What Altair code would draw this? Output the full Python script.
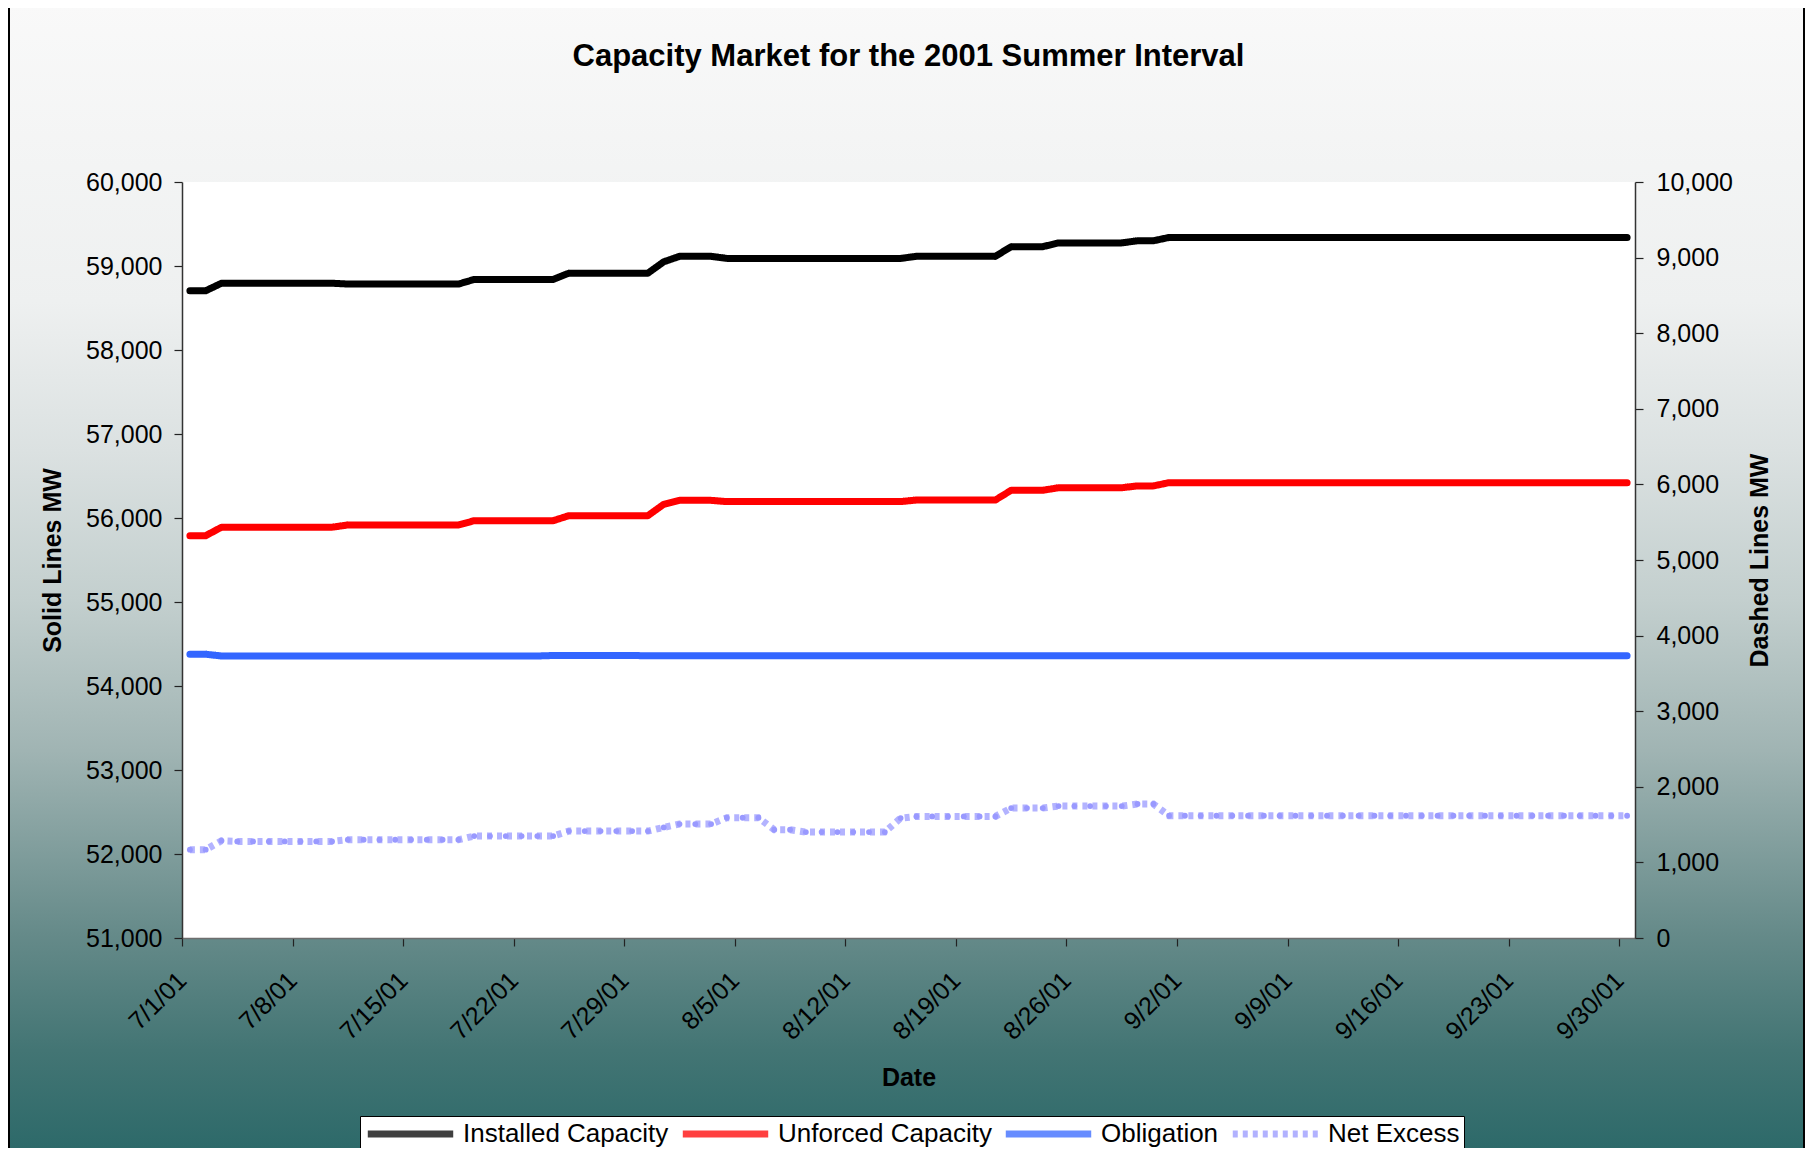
import altair as alt
import pandas as pd

# ---------------- data ----------------
dates = [d.strftime("%Y-%m-%dT12:00:00") for d in pd.date_range("2001-07-01", "2001-09-30", freq="D")]

installed = [
    58705, 58705, 58795, 58795, 58795, 58795, 58795, 58795, 58795, 58795,
    58785, 58785, 58785, 58785, 58785, 58785, 58785, 58785, 58840, 58840,
    58840, 58840, 58840, 58840, 58915, 58915, 58915, 58915, 58915, 58915,
    59050, 59115, 59115, 59115, 59090, 59090, 59090, 59090, 59090, 59090,
    59090, 59090, 59090, 59090, 59090, 59090, 59115, 59115, 59115, 59115,
    59115, 59115, 59230, 59230, 59230, 59275, 59275, 59275, 59275, 59275,
    59300, 59300, 59340, 59340, 59340, 59340, 59340, 59340, 59340, 59340,
    59340, 59340, 59340, 59340, 59340, 59340, 59340, 59340, 59340, 59340,
    59340, 59340, 59340, 59340, 59340, 59340, 59340, 59340, 59340, 59340,
    59340, 59340,
]
unforced = [
    55790, 55790, 55890, 55890, 55890, 55890, 55890, 55890, 55890, 55890,
    55917, 55917, 55917, 55917, 55917, 55917, 55917, 55917, 55968, 55968,
    55968, 55968, 55968, 55968, 56028, 56028, 56028, 56028, 56028, 56028,
    56163, 56210, 56210, 56210, 56195, 56195, 56195, 56195, 56195, 56195,
    56195, 56195, 56195, 56195, 56195, 56195, 56214, 56214, 56214, 56214,
    56214, 56214, 56330, 56330, 56330, 56360, 56360, 56360, 56360, 56360,
    56382, 56382, 56421, 56421, 56421, 56421, 56421, 56421, 56421, 56421,
    56421, 56421, 56421, 56421, 56421, 56421, 56421, 56421, 56421, 56421,
    56421, 56421, 56421, 56421, 56421, 56421, 56421, 56421, 56421, 56421,
    56421, 56421,
]
obligation = [
    54378, 54378, 54357, 54357, 54357, 54357, 54357, 54357, 54357, 54357,
    54357, 54357, 54357, 54357, 54357, 54357, 54357, 54357, 54357, 54357,
    54357, 54357, 54357, 54363, 54363, 54363, 54363, 54363, 54363, 54360,
    54360, 54360, 54360, 54360, 54360, 54360, 54360, 54360, 54360, 54360,
    54360, 54360, 54360, 54360, 54360, 54360, 54360, 54360, 54360, 54360,
    54360, 54360, 54360, 54360, 54360, 54360, 54360, 54360, 54360, 54360,
    54360, 54360, 54360, 54360, 54360, 54360, 54360, 54360, 54360, 54360,
    54360, 54360, 54360, 54360, 54360, 54360, 54360, 54360, 54360, 54360,
    54360, 54360, 54360, 54360, 54360, 54360, 54360, 54360, 54360, 54360,
    54360, 54360,
]
net_excess = [
    1168, 1168, 1287, 1278, 1278, 1278, 1278, 1278, 1278, 1278,
    1300, 1300, 1300, 1300, 1300, 1300, 1300, 1300, 1348, 1348,
    1348, 1348, 1348, 1348, 1414, 1414, 1414, 1414, 1414, 1414,
    1463, 1507, 1507, 1507, 1591, 1591, 1591, 1432, 1432, 1401,
    1401, 1401, 1401, 1401, 1401, 1586, 1608, 1608, 1608, 1608,
    1608, 1608, 1719, 1719, 1719, 1745, 1745, 1745, 1745, 1745,
    1772, 1772, 1617, 1617, 1617, 1617, 1617, 1617, 1617, 1617,
    1617, 1617, 1617, 1617, 1617, 1617, 1617, 1617, 1617, 1617,
    1617, 1617, 1617, 1617, 1617, 1617, 1617, 1617, 1617, 1617,
    1617, 1617,
]

series_names = ["Installed Capacity", "Unforced Capacity", "Obligation", "Net Excess"]
series_colors = ["#000000", "#ff0000", "#3366ff", "#9999ff"]
series_widths = [7, 7, 4, 1.2]
series_dashes = [[1, 0], [1, 0], [1, 0], [5, 5]]

x_tick_dates = [(7, 1), (7, 8), (7, 15), (7, 22), (7, 29), (8, 5), (8, 12), (8, 19),
                (8, 26), (9, 2), (9, 9), (9, 16), (9, 23), (9, 30)]
left_ticks = [51000, 52000, 53000, 54000, 55000, 56000, 57000, 58000, 59000, 60000]
right_ticks = [0, 1000, 2000, 3000, 4000, 5000, 6000, 7000, 8000, 9000, 10000]

# ---------------- tables ----------------
solid_df = pd.concat([
    pd.DataFrame({"date": dates, "value": installed, "series": series_names[0]}),
    pd.DataFrame({"date": dates, "value": unforced, "series": series_names[1]}),
    pd.DataFrame({"date": dates, "value": obligation, "series": series_names[2]}),
])
net_df = pd.DataFrame({"date": dates, "value": net_excess, "series": series_names[3]})
one = pd.DataFrame({"k": [0]})

# ---------------- layout ----------------
W, H = 1453, 756
PAD_L, PAD_T = 174, 174
CANVAS_W, CANVAS_H = 1797, 1140
PAD_R = CANVAS_W - PAD_L - W
PAD_B = CANVAS_H - PAD_T - H
FONT = "Liberation Sans"
BG_TOP = -PAD_T - 6          # top of the background panel (plot coords)
TITLE_OFFSET = -96

x_enc = alt.X(
    "date:T",
    scale=alt.Scale(domain=[alt.DateTime(year=2001, month=7, date=1),
                            alt.DateTime(year=2001, month=10, date=1)]),
    axis=alt.Axis(
        values=[alt.DateTime(year=2001, month=m, date=d) for m, d in x_tick_dates],
        format="%-m/%-d/%y", labelAngle=315, labelAlign="right", labelBaseline="middle",
        labelPadding=30, tickSize=8, grid=False, title="Date", zindex=1,
        titleX=W / 2, titleY=139, titleBaseline="middle", titleAlign="center",
        domainColor="#6e6e6e",
    ),
)

color_enc = alt.Color("series:N", scale=alt.Scale(domain=series_names, range=series_colors),
                      legend=alt.Legend(title=None))
width_enc = alt.StrokeWidth("series:N", scale=alt.Scale(domain=series_names, range=series_widths),
                            legend=alt.Legend(title=None))
dash_enc = alt.StrokeDash("series:N", scale=alt.Scale(domain=series_names, range=series_dashes),
                          legend=alt.Legend(title=None))

gradient = alt.Gradient(
    gradient="linear", x1=0, x2=0, y1=0, y2=1,
    stops=[
        alt.GradientStop(color="#f9f9f9", offset=0),
        alt.GradientStop(color="#eef0f0", offset=0.26),
        alt.GradientStop(color="#dbe1e1", offset=0.39),
        alt.GradientStop(color="#c3cfce", offset=0.52),
        alt.GradientStop(color="#a0b4b3", offset=0.65),
        alt.GradientStop(color="#658a89", offset=0.81),
        alt.GradientStop(color="#437574", offset=0.91),
        alt.GradientStop(color="#2c6969", offset=1),
    ],
)

bg = alt.Chart(one).mark_rect(fill=gradient, stroke="#000000", strokeWidth=2).encode(
    x=alt.value(-PAD_L + 1), x2=alt.value(W + PAD_R - 1),
    y=alt.value(BG_TOP), y2=alt.value(H + PAD_B + 6),
)
plot_bg = alt.Chart(one).mark_rect(fill="white").encode(
    x=alt.value(0), x2=alt.value(W), y=alt.value(0), y2=alt.value(H),
)

solid = alt.Chart(solid_df).mark_line(strokeCap="round", strokeJoin="round").encode(
    x=x_enc,
    y=alt.Y("value:Q",
            scale=alt.Scale(domain=[51000, 60000], nice=False, zero=False),
            axis=alt.Axis(values=left_ticks, format=",.0f", orient="left", grid=False,
                          tickSize=8, labelPadding=12, title="Solid Lines MW", zindex=1,
                          titleAngle=270, titleX=-130, titleY=H / 2,
                          titleBaseline="middle", titleAlign="center")),
    color=color_enc, strokeWidth=width_enc, strokeDash=dash_enc,
    order=alt.Order("date:T"),
)

net = alt.Chart(net_df).mark_line(
    opacity=0.75,
    point=alt.OverlayMarkDef(filled=True, size=34, opacity=1),
).encode(
    x=x_enc,
    y=alt.Y("value:Q",
            scale=alt.Scale(domain=[0, 10000], nice=False, zero=False),
            axis=alt.Axis(values=right_ticks, format=",.0f", orient="right", grid=False,
                          tickSize=8, labelPadding=13, title="Dashed Lines MW", zindex=1,
                          titleAngle=270, titleX=124, titleY=H / 2,
                          titleBaseline="middle", titleAlign="center")),
    color=color_enc, strokeWidth=width_enc, strokeDash=dash_enc,
)

chart = alt.layer(bg, plot_bg, solid, net).resolve_scale(y="independent").properties(
    width=W, height=H,
    autosize=alt.AutoSizeParams(type="none"),
    padding={"left": PAD_L, "top": PAD_T, "right": PAD_R, "bottom": PAD_B},
    title=alt.TitleParams(
        text="Capacity Market for the 2001 Summer Interval",
        font=FONT, fontSize=31, fontWeight="bold", color="#000000",
        anchor="middle", frame="group", baseline="alphabetic",
        offset=TITLE_OFFSET, zindex=1,
    ),
).configure_view(stroke=None, fill=None).configure_axis(
    labelFont=FONT, labelFontSize=25, labelColor="#000000",
    titleFont=FONT, titleFontSize=25, titleFontWeight="bold", titleColor="#000000",
    domainColor="#333333", domainWidth=1.5, tickColor="#222222", tickWidth=1.2,
).configure_legend(
    zindex=1,
    orient="none", legendX=178, legendY=934, direction="horizontal", columns=4,
    symbolType="stroke", symbolSize=7300, clipHeight=28,
    labelFont=FONT, labelFontSize=26, labelColor="#000000", labelLimit=0,
    labelOffset=6, columnPadding=10, padding=4,
    fillColor="#ffffff", strokeColor="#000000",
)

chart.save("out.html", embed_options={"renderer": "svg", "actions": False})
